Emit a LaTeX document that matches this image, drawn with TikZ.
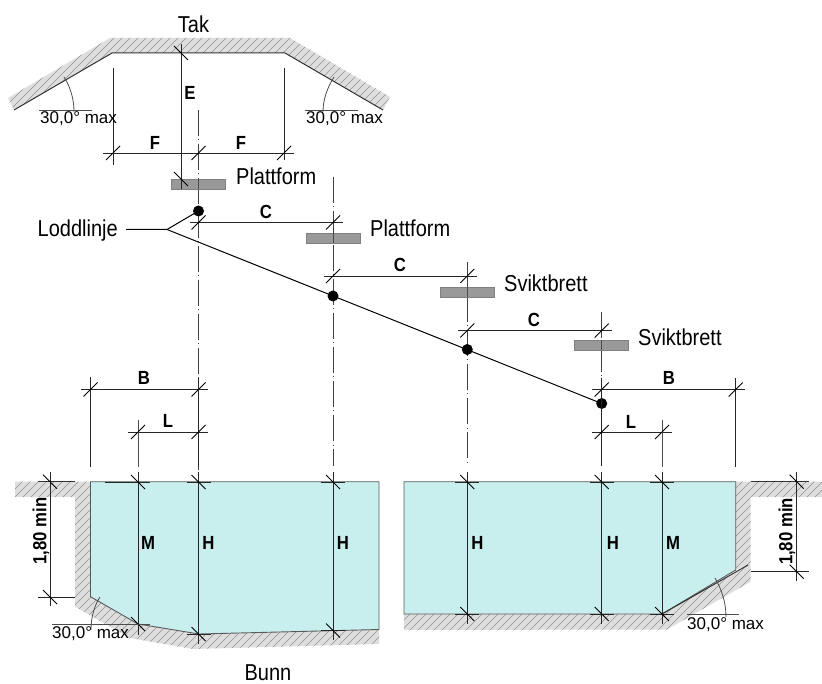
\documentclass[tikz,border=0pt]{standalone}
\usepackage{fontspec}
\setmainfont{Liberation Sans}
\newcommand{\hatchzone}[1]{%
  \begin{scope}
    \fill[hatchbg] #1;
    \clip #1;
    \foreach \i in {-700,-692,...,900} \draw[hatchln] (\i,700) -- (\i+700,0);
  \end{scope}}
\newcommand{\slashtick}[2]{\draw[tickln] (#1-7,#2+7) -- (#1+7,#2-7);}
\newcommand{\backtick}[2]{\draw[tickln] (#1-7,#2-7) -- (#1+7,#2+7);}
% vertical depth dimension: x, top tick y, bottom tick y, line end y, left and right witness
\newcommand{\depthdim}[6]{%
  \draw[dimln] (#1,472) -- (#1,#4);
  \draw[dimln] (#1-#5,482) -- (#1+#6,482);
  \draw[dimln] (#1-#5,#3) -- (#1+#6,#3);
  \backtick{#1}{482}\backtick{#1}{#3}}
\newcommand{\angref}[4]{\draw[thinln] (#1,#2) -- (#3,#4);}
\tikzset{
  hatchbg/.style={fill=black!13},
  hatchln/.style={draw=black!42,line width=0.5pt},
  dimln/.style={draw=black!85,line width=0.9pt},
  tickln/.style={draw=black,line width=0.8pt},
  thinln/.style={draw=black!70,line width=0.8pt},
  centerln/.style={draw=black!75,line width=0.9pt,dash pattern=on 26pt off 3.5pt on 1pt off 3.5pt},
  board/.style={draw=black!50,fill=black!40,line width=0.8pt},
  water/.style={fill=waterc,draw=black!65,line width=0.9pt},
  edge/.style={draw=black!80,line width=1pt},
  lab/.style={font=\fontsize{23}{26}\selectfont,inner sep=0pt,xscale=.87},
  dimlab/.style={font=\fontsize{19}{22}\selectfont\bfseries,inner sep=0pt,xscale=.88},
  dimlabv/.style={font=\fontsize{19}{22}\selectfont\bfseries,inner sep=0pt,rotate=90,xscale=.88},
  anglab/.style={font=\fontsize{17}{20}\selectfont,inner sep=0pt,anchor=west},
  plumb/.style={circle,fill=black,inner sep=0pt,minimum size=11pt}
}
\definecolor{waterc}{RGB}{200,238,238}
\begin{document}
\begin{tikzpicture}[x=1pt,y=-1pt]
\useasboundingbox (0,0) rectangle (822,684);
% ---- roof
\hatchzone{(8,98) -- (110,38) -- (290,38) -- (390,97) -- (383,110) -- (285,53) -- (112,53) -- (14,110) -- cycle}
\draw[edge] (14,110) -- (112,53) -- (285,53) -- (383,110);
% ---- pools
\hatchzone{(15,481.7) -- (90.5,481.7) -- (90.5,596.7) -- (138,624) -- (199,634) -- (379,629.5) -- (379,644) -- (193,649) -- (130,638) -- (75,606.7) -- (75,497) -- (15,497) -- cycle}
\hatchzone{(404,614) -- (662,614) -- (748,565) -- (735.7,570) -- (735.7,481.7) -- (822,481.7) -- (822,497) -- (750.7,497) -- (750.7,581.7) -- (667,629.5) -- (404,630) -- cycle}
\draw[water] (90.5,481.7) -- (379,481.7) -- (379,629.5) -- (199,634) -- (138,624) -- (90.5,596.7) -- cycle;
\draw[water] (404,481.7) -- (735.7,481.7) -- (735.7,570) -- (662,614) -- (404,614) -- cycle;
\draw[edge] (662,614) -- (748,565);
\draw[edge] (38,481.7) -- (75,481.7);
\draw[edge] (750.7,481.7) -- (809,481.7);
% ---- centre lines
\draw[centerln] (198.5,110) -- (198.5,470);
\draw[centerln] (333,177) -- (333,466);
\draw[centerln] (467.3,262) -- (467.3,466);
\draw[centerln] (601.7,312) -- (601.7,466);
% ---- boards
\node[board,minimum width=54pt,minimum height=10pt,inner sep=0pt] (p1) at (198.5,184) {};
\node[board,minimum width=54pt,minimum height=10pt,inner sep=0pt] (p2) at (333,238) {};
\node[board,minimum width=54pt,minimum height=10pt,inner sep=0pt] (s1) at (467.3,292) {};
\node[board,minimum width=54pt,minimum height=10pt,inner sep=0pt] (s2) at (601.7,345.3) {};
\draw[draw=black!70,line width=0.7pt] (333,233) -- (333,243) (467.3,287) -- (467.3,297) (601.7,340) -- (601.7,350.5) (198.5,179) -- (198.5,189);
% ---- plumb line
\node[plumb] (d1) at (198.5,211) {};
\node[plumb] (d2) at (333,296) {};
\node[plumb] (d3) at (467.3,349.5) {};
\node[plumb] (d4) at (601.7,403.5) {};
\node[lab,anchor=east] (lodd) at (118,231) {Loddlinje};
\coordinate (knee) at (167,229.5);
\draw[draw=black,line width=1pt] (126,229.5) -- (knee) -- (d1.center);
\draw[draw=black,line width=1pt] (knee) -- (d4.center);
% ---- upper dimensions
\draw[dimln] (113,68) -- (113,165);
\draw[dimln] (284,68) -- (284,160);
\draw[dimln] (103,153) -- (294,153);
\slashtick{113}{153}\slashtick{198.5}{153}\slashtick{284}{153}
\node[dimlab] (f1) at (155,143) {F};
\node[dimlab] (f2) at (241,143) {F};
\draw[dimln] (181,44) -- (181,189);
\backtick{181}{53}\backtick{181}{179}
\node[dimlab] (e) at (190,93) {E};
% ---- C
\draw[dimln] (190,222.5) -- (343,222.5);
\slashtick{198.5}{222.5}\slashtick{333}{222.5}
\node[dimlab] (c1) at (266,212) {C};
\draw[dimln] (324,276) -- (477,276);
\slashtick{333}{276}\slashtick{467.3}{276}
\node[dimlab] (c2) at (400,265) {C};
\draw[dimln] (458,330.5) -- (612,330.5);
\slashtick{467.3}{330.5}\slashtick{601.7}{330.5}
\node[dimlab] (c3) at (534,320) {C};
% ---- B, L
\draw[dimln] (90.5,377) -- (90.5,467);
\draw[dimln] (81,389.5) -- (208,389.5);
\slashtick{90.5}{389.5}\slashtick{198.5}{389.5}
\node[dimlab] (b1) at (144,378) {B};
\draw[dimln] (198.5,378) -- (198.5,466);
\draw[dimln] (128,432) -- (208,432);
\draw[thinln] (138,420) -- (138,467);
\slashtick{138}{432}\slashtick{198.5}{432}
\node[dimlab] (l1) at (168,421) {L};
\draw[dimln] (592,389.5) -- (745,389.5);
\draw[dimln] (735.7,378) -- (735.7,467);
\slashtick{601.7}{389.5}\slashtick{735.7}{389.5}
\node[dimlab] (b2) at (669,378) {B};
\draw[dimln] (601.7,378) -- (601.7,466);
\draw[dimln] (592,432) -- (672,432);
\draw[thinln] (662,420) -- (662,467);
\slashtick{601.7}{432}\slashtick{662}{432}
\node[dimlab] (l2) at (631,422) {L};
% ---- depth dimensions
\depthdim{138}{482}{624}{635}{33}{12}
\depthdim{198.5}{482}{634}{644}{12}{12}
\depthdim{333}{482}{630.5}{640}{12}{12}
\depthdim{467.3}{482}{614}{624}{12}{12}
\depthdim{601.7}{482}{614}{624}{12}{12}
\depthdim{662}{482}{614}{624}{12}{12}
\node[dimlab] (m1) at (148,543) {M};
\node[dimlab] (h1) at (208.5,543) {H};
\node[dimlab] (h2) at (343,543) {H};
\node[dimlab] (h3) at (477.5,543) {H};
\node[dimlab] (h4) at (613,543) {H};
\node[dimlab] (m2) at (673,543) {M};
% ---- 1,80 min
\draw[dimln] (50,472) -- (50,606);
\draw[dimln] (38,597) -- (75,597);
\backtick{50}{481.7}\backtick{50}{597}
\node[dimlabv] (m180a) at (41,531) {1,80 min};
\draw[dimln] (796.7,472) -- (796.7,581);
\draw[dimln] (750.7,571.7) -- (809,571.7);
\backtick{796.7}{481.7}\backtick{796.7}{571.7}
\node[dimlabv] (m180b) at (787,531.5) {1,80 min};
% ---- angles
\angref{39}{110}{92}{110}
\draw[thinln] (64,77) .. controls (71,88) and (74,100) .. (74,112);
\node[anglab] (a1) at (40,119) {30,0° max};
\angref{305}{110}{358}{110}
\draw[thinln] (334,77) .. controls (327,88) and (323,100) .. (323,112);
\node[anglab] (a2) at (306,119) {30,0° max};
\angref{52}{624.3}{150}{624.3}
\draw[thinln] (100,597) .. controls (94,606) and (91,618) .. (91,630);
\node[anglab] (a3) at (52,634) {30,0° max};
\angref{687}{614.3}{739}{614.3}
\draw[thinln] (715,578) .. controls (722,590) and (726,603) .. (726,617);
\node[anglab] (a4) at (687,624.5) {30,0° max};
% ---- labels
\node[lab] (tak) at (193.5,24) {Tak};
\node[lab,anchor=west] (t1) at (236,176) {Plattform};
\node[lab,anchor=west] (t2) at (370,228) {Plattform};
\node[lab,anchor=west] (t3) at (504,283) {Sviktbrett};
\node[lab,anchor=west] (t4) at (638,337) {Sviktbrett};
\node[lab] (bunn) at (268,673) {Bunn};
\end{tikzpicture}
\end{document}
